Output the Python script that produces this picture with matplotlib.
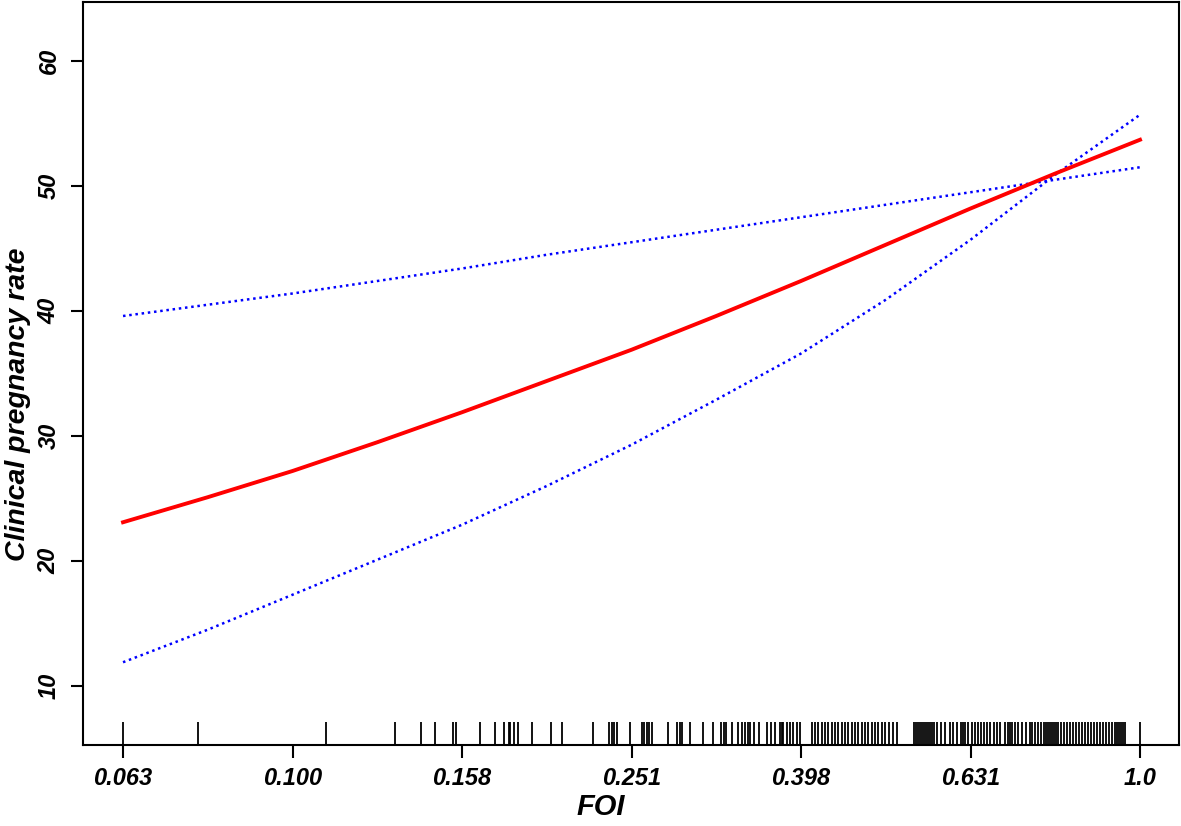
import matplotlib
matplotlib.use("Agg")
import matplotlib.pyplot as plt
import matplotlib.transforms as mtransforms
import numpy as np

plt.rcParams['font.family'] = ['Liberation Sans', 'DejaVu Sans']
plt.rcParams['font.weight'] = 'bold'
plt.rcParams['font.style'] = 'italic'

foi = [0.0631, 0.0794, 0.1, 0.1259, 0.1585, 0.1995, 0.2512, 0.3162,
       0.3981, 0.5012, 0.631, 0.7943, 1.0]
fit = [23.1, 25.1, 27.2, 29.5, 31.9, 34.4, 36.9, 39.6, 42.4, 45.3, 48.2, 51.0, 53.7]
upper = [39.6, 40.5, 41.4, 42.4, 43.4, 44.5, 45.5, 46.5, 47.5, 48.5, 49.5, 50.5, 51.5]
lower = [11.9, 14.5, 17.3, 20.1, 22.9, 26.0, 29.3, 32.9, 36.6, 40.9, 45.7, 50.9, 55.7]

# rug of observed FOI (log10 values)
rug_log10 = [
    -1.200, -1.111, -0.961, -0.879, -0.848, -0.832, -0.811, -0.807, -0.779,
    -0.761, -0.750, -0.745, -0.743, -0.739, -0.734, -0.718, -0.695, -0.682,
    -0.645, -0.627, -0.623, -0.621, -0.617, -0.602, -0.588, -0.585, -0.582,
    -0.579, -0.576, -0.557, -0.546, -0.543, -0.540, -0.531, -0.516, -0.504,
    -0.494, -0.491, -0.488, -0.482, -0.474, -0.470, -0.466, -0.462, -0.460,
    -0.456, -0.450, -0.440, -0.435, -0.431, -0.425, -0.423, -0.421, -0.417,
    -0.413, -0.409, -0.405, -0.401,
    -0.387, -0.383, -0.380, -0.375, -0.372, -0.368, -0.363, -0.360, -0.356,
    -0.352, -0.348, -0.345, -0.340, -0.336, -0.333, -0.328, -0.324, -0.321,
    -0.316, -0.313, -0.309, -0.304, -0.301, -0.296, -0.291, -0.287, -0.267,
    -0.264, -0.262, -0.260, -0.257, -0.255, -0.252, -0.250, -0.248, -0.245,
    -0.243, -0.239, -0.235, -0.230, -0.224, -0.221, -0.216, -0.211, -0.209,
    -0.206, -0.203, -0.198, -0.195, -0.191, -0.188, -0.184, -0.181, -0.177,
    -0.172, -0.169, -0.165, -0.159, -0.156, -0.153, -0.151, -0.147, -0.144,
    -0.139, -0.134, -0.130, -0.127, -0.124, -0.120, -0.117, -0.113, -0.111,
    -0.109, -0.106, -0.104, -0.101, -0.099, -0.097, -0.093, -0.090, -0.086,
    -0.083, -0.079, -0.075, -0.072, -0.068, -0.065, -0.061, -0.058, -0.054,
    -0.051, -0.047, -0.044, -0.040, -0.037, -0.033, -0.029, -0.027, -0.025,
    -0.022, -0.020, -0.018, 0.000,
]

xtick_vals = [0.0631, 0.1, 0.1585, 0.2512, 0.3981, 0.631, 1.0]
xtick_labels = ['0.063', '0.100', '0.158', '0.251', '0.398', '0.631', '1.0']
ytick_vals = [10, 20, 30, 40, 50, 60]

fig = plt.figure(figsize=(11.81, 8.26), dpi=100)
ax = fig.add_axes([83 / 1181, 1 - 745 / 826, (1179 - 83) / 1181, (745 - 2) / 826])

ax.plot(foi, upper, color='#0000ff', linestyle=(0, (1, 1.5)), linewidth=1.8)
ax.plot(foi, lower, color='#0000ff', linestyle=(0, (1, 1.5)), linewidth=1.8)
ax.plot(foi, fit, color='#ff0000', linewidth=2.8)

trans = mtransforms.blended_transform_factory(ax.transData, ax.transAxes)
rug = 10 ** np.array(rug_log10)
ax.vlines(rug, 0, 0.031, transform=trans, color='black', linewidth=1.3)

ax.set_xscale('log')
ax.set_xlim(10 ** -1.2472, 10 ** 0.046)
ax.set_ylim(5.28, 64.72)
ax.minorticks_off()
ax.set_xticks(xtick_vals)
ax.set_xticklabels(xtick_labels)
ax.set_yticks(ytick_vals)
ax.set_yticklabels([str(v) for v in ytick_vals], rotation=90, va='center')
ax.tick_params(axis='both', direction='out', length=9, width=1.5,
               labelsize=17, pad=7)
for s in ax.spines.values():
    s.set_linewidth(1.5)

ax.set_xlabel('FOI', fontsize=21, fontweight='bold', style='italic')
ax.set_ylabel('Clinical pregnancy rate', fontsize=20.5, fontweight='bold',
              style='italic')
ax.xaxis.set_label_coords(0.472, -0.064)
ax.yaxis.set_label_coords(-0.047, 0.459)

fig.savefig('out.png', dpi=100)
